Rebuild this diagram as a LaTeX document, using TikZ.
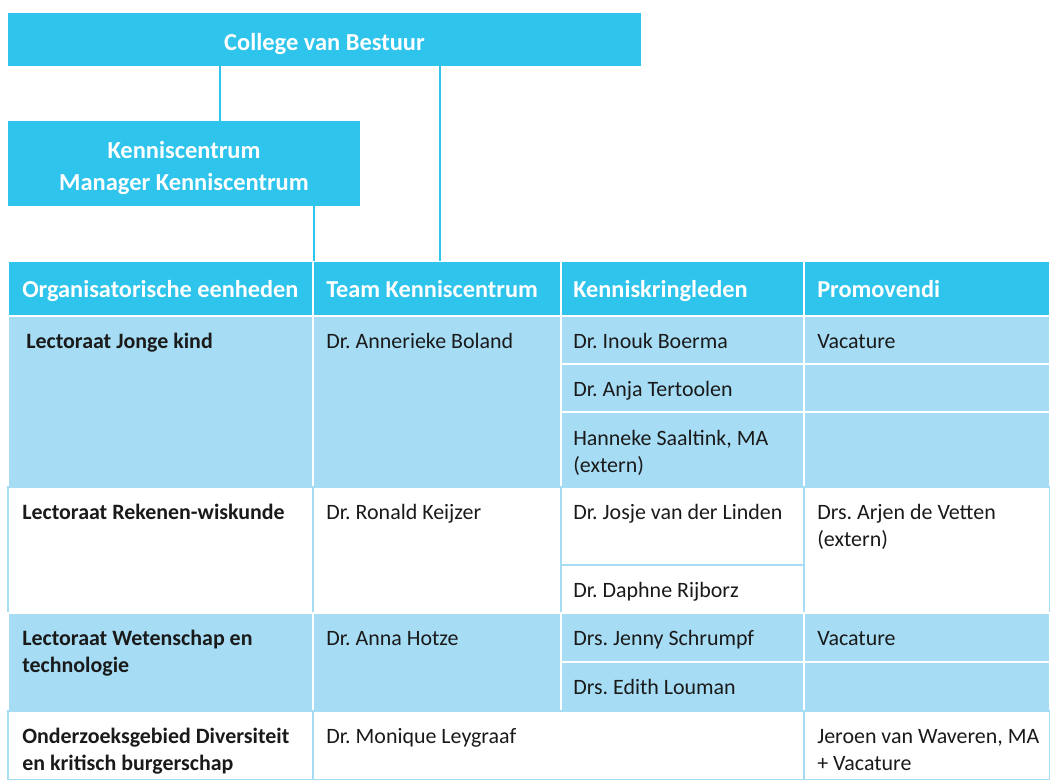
\documentclass[tikz,border=0pt]{standalone}
\usepackage{fontspec}
\setmainfont{Carlito}
\usetikzlibrary{calc}
\frenchspacing

\definecolor{kcblue}{RGB}{46,196,236}
\definecolor{kclight}{RGB}{166,221,245}
\definecolor{kctext}{RGB}{26,26,26}

\newcommand\pxu{0.025cm}
% one table cell: name, x, y, width, height, fill, border
\newcommand\tcell[7]{%
  \node[cell, fill=#6, draw=#7, minimum width=#4*\pxu, minimum height=#5*\pxu] (#1) at (#2,#3) {};}
% two lines, baseline on the first one
\newcommand\twolines[2]{\vtop{\hbox{#1}\hbox{#2}}}

\tikzset{
  topbox/.style={rectangle, fill=kcblue, inner sep=0},
  toptxt/.style={text=white, align=center, inner sep=0, yshift=-3.2pt,
    font=\bfseries\fontsize{17.4}{22.8}\selectfont},
  cell/.style={rectangle, inner sep=0, outer sep=0, anchor=north west, line width=1.2pt},
  headtxt/.style={anchor=base west, inner sep=0, text=white, font=\bfseries\fontsize{17.3}{20}\selectfont},
  bodytxt/.style={anchor=base west, inner sep=0, text=kctext, font=\fontsize{15.6}{19.6}\selectfont},
  orgtxt/.style={bodytxt, font=\bfseries\fontsize{15.6}{19.3}\selectfont},
  link/.style={draw=kcblue, line width=2.1pt},
}

\begin{document}
\begin{tikzpicture}[x=0.025cm, y=-0.025cm]
\useasboundingbox[fill=white] (0,0) rectangle (1050,780);

% top of the chart
\node[topbox, minimum width=633*\pxu, minimum height=53*\pxu,
  label={[toptxt]center:College van Bestuur}] (college) at (324.5,39.5) {};
\node[topbox, minimum width=352*\pxu, minimum height=85*\pxu,
  label={[toptxt]center:{Kenniscentrum\\Manager Kenniscentrum}}] (kc) at (184,163.5) {};

% table: header
\tcell{hOrg}{8}{261}{305}{55}{kcblue}{white}
\tcell{hTeam}{313}{261}{248}{55}{kcblue}{white}
\tcell{hKring}{561}{261}{243}{55}{kcblue}{white}
\tcell{hPromo}{804}{261}{246}{55}{kcblue}{white}

% Lectoraat Jonge kind
\tcell{jkOrg}{8}{316}{305}{171}{kclight}{white}
\tcell{jkTeam}{313}{316}{248}{171}{kclight}{white}
\tcell{jkKr1}{561}{316}{243}{48}{kclight}{white}
\tcell{jkKr2}{561}{364}{243}{48}{kclight}{white}
\tcell{jkKr3}{561}{412}{243}{75}{kclight}{white}
\tcell{jkPr1}{804}{316}{246}{48}{kclight}{white}
\tcell{jkPr2}{804}{364}{246}{48}{kclight}{white}
\tcell{jkPr3}{804}{412}{246}{75}{kclight}{white}

% Lectoraat Rekenen-wiskunde
\tcell{rwOrg}{8}{487}{305}{126}{white}{kclight}
\tcell{rwTeam}{313}{487}{248}{126}{white}{kclight}
\tcell{rwKr1}{561}{487}{243}{78}{white}{kclight}
\tcell{rwKr2}{561}{565}{243}{48}{white}{kclight}
\tcell{rwPr}{804}{487}{246}{126}{white}{kclight}

% Lectoraat Wetenschap en technologie
\tcell{wtOrg}{8}{613}{305}{98}{kclight}{white}
\tcell{wtTeam}{313}{613}{248}{98}{kclight}{white}
\tcell{wtKr1}{561}{613}{243}{49}{kclight}{white}
\tcell{wtKr2}{561}{662}{243}{49}{kclight}{white}
\tcell{wtPr1}{804}{613}{246}{49}{kclight}{white}
\tcell{wtPr2}{804}{662}{246}{49}{kclight}{white}

% Onderzoeksgebied Diversiteit
\tcell{dkOrg}{8}{711}{305}{69}{white}{kclight}
\tcell{dkTeam}{313}{711}{491}{69}{white}{kclight}
\tcell{dkPr}{804}{711}{246}{69}{white}{kclight}

% header texts
\node[headtxt] (tOrg) at ([shift={(14,37)}]hOrg.north west) {Organisatorische eenheden};
\node[headtxt] (tTeam) at ([shift={(13,37)}]hTeam.north west) {Team Kenniscentrum};
\node[headtxt] (tKring) at ([shift={(12,37)}]hKring.north west) {Kenniskringleden};
\node[headtxt] (tPromo) at ([shift={(13,37)}]hPromo.north west) {Promovendi};

% body texts
\node[orgtxt] (lJk) at ([shift={(18,32)}]jkOrg.north west) {Lectoraat Jonge kind};
\node[bodytxt] (pBoland) at ([shift={(13,32)}]jkTeam.north west) {Dr. Annerieke Boland};
\node[bodytxt] (pBoerma) at ([shift={(12,32)}]jkKr1.north west) {Dr. Inouk Boerma};
\node[bodytxt] (pTertoolen) at ([shift={(12,32)}]jkKr2.north west) {Dr. Anja Tertoolen};
\node[bodytxt] (pSaaltink) at ([shift={(12,33)}]jkKr3.north west) {\twolines{Hanneke Saaltink, MA}{(extern)}};
\node[bodytxt] (vJk) at ([shift={(13,32)}]jkPr1.north west) {Vacature};

\node[orgtxt] (lRw) at ([shift={(14,32)}]rwOrg.north west) {Lectoraat Rekenen-wiskunde};
\node[bodytxt] (pKeijzer) at ([shift={(13,32)}]rwTeam.north west) {Dr. Ronald Keijzer};
\node[bodytxt] (pLinden) at ([shift={(12,32)}]rwKr1.north west) {Dr. Josje van der Linden};
\node[bodytxt] (pRijborz) at ([shift={(12,32)}]rwKr2.north west) {Dr. Daphne Rijborz};
\node[bodytxt] (pVetten) at ([shift={(13,32)}]rwPr.north west) {\twolines{Drs. Arjen de Vetten}{(extern)}};

\node[orgtxt] (lWt) at ([shift={(14,32)}]wtOrg.north west) {\twolines{Lectoraat Wetenschap en}{technologie}};
\node[bodytxt] (pHotze) at ([shift={(13,32)}]wtTeam.north west) {Dr. Anna Hotze};
\node[bodytxt] (pSchrumpf) at ([shift={(12,32)}]wtKr1.north west) {Drs. Jenny Schrumpf};
\node[bodytxt] (pLouman) at ([shift={(12,32)}]wtKr2.north west) {Drs. Edith Louman};
\node[bodytxt] (vWt) at ([shift={(13,32)}]wtPr1.north west) {Vacature};

\node[orgtxt] (lDk) at ([shift={(14,32)}]dkOrg.north west) {\twolines{Onderzoeksgebied Diversiteit}{en kritisch burgerschap}};
\node[bodytxt] (pLeygraaf) at ([shift={(13,32)}]dkTeam.north west) {Dr. Monique Leygraaf};
\node[bodytxt] (pWaveren) at ([shift={(13,32)}]dkPr.north west) {\twolines{Jeroen van Waveren, MA}{+ Vacature}};

% connectors
\coordinate (cvbA) at (220,66);
\coordinate (cvbB) at (440,66);
\coordinate (kcA) at (314,206);
\draw[link] (cvbA) -- (cvbA |- kc.north);
\draw[link] (cvbB) -- (cvbB |- hTeam.north);
\draw[link] (kcA) -- (kcA |- hTeam.north);
\end{tikzpicture}
\end{document}
